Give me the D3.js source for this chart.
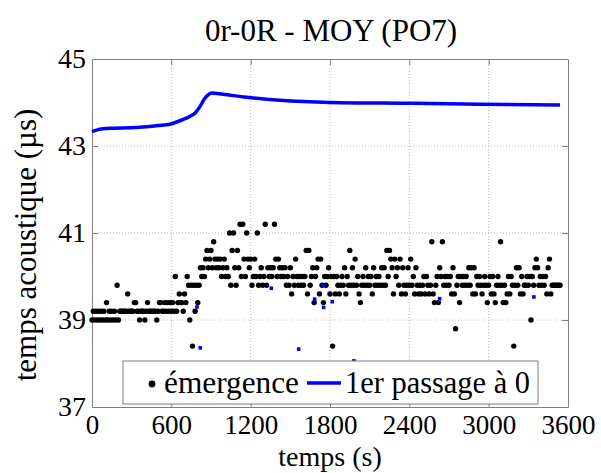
<!DOCTYPE html>
<html><head><meta charset="utf-8">
<script src="https://cdn.jsdelivr.net/npm/d3@7"></script>
<style>
body{margin:0;background:#fff}
svg{display:block}
</style>
</head><body>
<svg id="chart" width="601" height="473"></svg>
<script>
const titleText = "0r-0R - MOY (PO7)";
const xLabel = "temps (s)";
const yLabel = "temps acoustique (µs)";
const xTicks = [0, 600, 1200, 1800, 2400, 3000, 3600];
const yTicks = [37, 39, 41, 43, 45];
const legendLabels = ["émergence", "1er passage à 0"];

// émergence: one value every 10 s, in blocks of 600 s
const emergenceStep = 10;
const emergence0 = [39.0,39.2,39.0,39.2,39.0,39.2,39.0,39.2,39.0,39.2,
 39.0,39.4,39.0,39.2,39.0,39.2,39.0,39.2,39.0,39.8,
 39.0,39.2,39.2,39.2,39.2,39.2,39.2,39.6,39.2,39.2,
 39.2,39.2,39.4,39.4,39.2,39.2,39.0,39.2,39.2,39.2,
 39.0,39.2,39.4,39.2,39.2,39.2,39.2,39.2,39.2,39.0,
 39.2,39.4,39.4,39.2,39.2,39.4,39.2,39.4,39.2,39.4];
const emergence600 = [39.2,39.4,39.2,40.0,39.2,39.4,39.6,39.4,39.4,39.2,
 39.6,39.4,40.0,39.8,39.0,39.8,38.4,39.8,39.2,39.8,
 39.4,39.8,40.2,40.0,40.2,40.0,40.4,40.6,40.2,40.4,
 40.6,40.2,40.8,40.4,40.2,40.4,40.2,40.4,40.0,40.2,
 40.4,40.0,40.2,40.0,41.0,39.8,40.6,41.0,40.2,39.8,
 40.6,40.2,41.2,40.0,41.2,40.4,40.0,41.0,40.4,40.2];
const emergence1200 = [40.4,39.8,40.0,40.4,40.0,41.0,39.8,40.0,40.2,39.8,
 40.0,41.2,39.8,40.2,40.0,40.2,40.0,40.2,41.2,40.4,
 40.0,40.4,40.2,40.0,40.2,40.0,40.2,39.8,40.0,39.8,
 40.2,39.6,40.0,39.8,40.4,40.0,39.8,40.0,39.8,40.0,
 39.8,40.0,40.6,39.6,40.6,39.8,40.0,40.2,39.4,40.0,
 40.2,40.4,39.6,40.4,39.8,39.4,40.0,39.8,40.0,40.2];
const emergence1800 = [39.6,40.0,38.4,40.0,39.6,40.0,39.8,39.6,39.8,40.0,
 39.8,40.2,39.6,40.0,39.8,40.6,39.8,40.2,39.8,40.4,
 39.8,40.0,39.6,39.4,39.8,40.0,39.8,40.2,39.8,40.0,
 39.8,40.0,39.6,40.2,39.8,40.0,39.8,40.0,39.8,40.2,
 39.8,40.2,39.8,40.6,40.0,40.6,40.4,40.2,39.6,40.4,
 40.0,40.2,39.8,40.4,39.6,40.2,39.8,39.6,39.8,40.2];
const emergence2400 = [39.8,40.4,39.8,40.0,39.6,40.2,39.8,39.6,39.8,39.6,
 39.8,40.0,39.6,40.0,39.8,39.6,39.8,40.8,39.6,39.4,
 39.8,40.0,39.4,40.2,40.0,40.8,39.8,40.0,39.8,40.0,
 39.8,40.0,39.6,40.2,39.6,38.8,39.8,40.0,39.4,40.0,
 39.8,40.0,39.8,40.0,39.8,40.2,39.8,40.2,39.6,40.2,
 39.6,40.0,39.8,40.0,39.8,39.6,39.8,40.0,39.8,39.4];
const emergence3000 = [39.8,40.0,39.6,40.0,39.6,39.4,39.8,40.0,39.8,40.8,
 39.8,39.4,39.8,39.4,39.6,40.0,39.6,40.0,39.8,38.4,
 39.8,40.2,39.8,40.2,39.6,40.0,39.6,39.8,39.8,40.0,
 39.8,40.0,39.0,40.0,39.8,40.2,40.4,40.2,39.8,40.0,
 39.8,40.0,39.8,40.0,39.6,40.2,40.4,39.6,39.8,39.8,
 39.8,39.8,39.8,39.8,39.8];
const emergenceBlocks = [[0, emergence0],[600, emergence600],[1200, emergence1200],
  [1800, emergence1800],[2400, emergence2400],[3000, emergence3000]];

// 1er passage à 0 : curve
const passageT = [0, 70, 160, 300, 410, 500, 590, 690, 740, 780, 815, 850, 880, 905, 990, 1170, 1420, 1800, 2430, 2930, 3540];
const passageV = [43.33, 43.39, 43.41, 43.42, 43.44, 43.47, 43.50, 43.61, 43.68, 43.76, 43.90, 44.08, 44.18, 44.22, 44.19, 44.12, 44.05, 44.00, 43.98, 43.96, 43.94];
// isolated blue markers
const markerT = [794, 819, 1356, 1563, 1684, 1747, 1752, 1817, 1981, 2629, 3342];
const markerV = [39.30, 38.36, 39.73, 38.33, 39.48, 39.79, 39.29, 39.42, 38.06, 39.49, 39.53];

const FONT = '"Liberation Serif", "Times New Roman", Times, "DejaVu Serif", serif';
const m = {left: 92, right: 568, top: 59, bottom: 407};
const svg = d3.select("#chart");
const x = d3.scaleLinear().domain([0, 3600]).range([m.left, m.right]);
const y = d3.scaleLinear().domain([37, 45]).range([m.bottom, m.top]);
const axisColor = "#7f7f7f";

// grid
const grid = svg.append("g");
grid.selectAll("line.gx").data(xTicks.slice(1, -1)).enter().append("line")
  .attr("x1", d => x(d)).attr("x2", d => x(d)).attr("y1", m.top).attr("y2", m.bottom)
  .attr("stroke", "#b8b8b8").attr("stroke-width", 1).attr("stroke-dasharray", "1,2");
grid.selectAll("line.gy").data(yTicks.slice(1, -1)).enter().append("line")
  .attr("y1", d => y(d)).attr("y2", d => y(d)).attr("x1", m.left).attr("x2", m.right)
  .attr("stroke", "#b8b8b8").attr("stroke-width", 1).attr("stroke-dasharray", "1,2");

// axes
function styleAxis(g, labels) {
  g.attr("font-family", null).attr("font-size", null);
  g.selectAll("path.domain").attr("stroke", axisColor);
  g.selectAll(".tick line").attr("stroke", axisColor);
  g.selectAll("text").style("font-family", FONT).style("font-size", "28px").attr("fill", "#000");
  if (!labels) g.selectAll("text").remove();
}
const xb = svg.append("g").attr("transform", `translate(0,${m.bottom})`)
  .call(d3.axisBottom(x).tickValues(xTicks).tickSizeInner(-6).tickSizeOuter(0).tickFormat(d3.format("d")));
styleAxis(xb, true);
xb.selectAll("text").style("font-size", "27px").attr("dy", "0.71em").attr("y", 8);
const xt = svg.append("g").attr("transform", `translate(0,${m.top})`)
  .call(d3.axisTop(x).tickValues(xTicks).tickSizeInner(-6).tickSizeOuter(0));
styleAxis(xt, false);
const yl = svg.append("g").attr("transform", `translate(${m.left},0)`)
  .call(d3.axisLeft(y).tickValues(yTicks).tickSizeInner(-6).tickSizeOuter(0).tickPadding(6).tickFormat(d3.format("d")));
styleAxis(yl, true);
yl.selectAll("text").attr("x", -6);
const yr = svg.append("g").attr("transform", `translate(${m.right},0)`)
  .call(d3.axisRight(y).tickValues(yTicks).tickSizeInner(-6).tickSizeOuter(0));
styleAxis(yr, false);
[xb, xt].forEach(g => g.selectAll(".tick line").filter(d => d === 0 || d === 3600).remove());
[yl, yr].forEach(g => g.selectAll(".tick line").filter(d => d === 37 || d === 45).remove());

// curve
const passage = passageT.map((t, i) => [t, passageV[i]]);
svg.append("path").datum(passage)
  .attr("d", d3.line().x(d => x(d[0])).y(d => y(d[1])).curve(d3.curveMonotoneX))
  .attr("fill", "none").attr("stroke", "#0000ff").attr("stroke-width", 3.5)
  .attr("stroke-linejoin", "round");

// dots
const emergence = [];
emergenceBlocks.forEach(([t0, vals]) => vals.forEach((v, i) => emergence.push([t0 + i * emergenceStep, v])));
svg.append("g").selectAll("circle").data(emergence).enter().append("circle")
  .attr("cx", d => x(d[0])).attr("cy", d => y(d[1])).attr("r", 2.7).attr("fill", "#000");

// blue markers
const markers = markerT.map((t, i) => [t, markerV[i]]);
svg.append("g").selectAll("rect").data(markers).enter().append("rect")
  .attr("x", d => x(d[0]) - 1.8).attr("y", d => y(d[1]) - 1.8)
  .attr("width", 3.6).attr("height", 3.6).attr("fill", "#0000ff");

// legend
const lg = svg.append("g");
lg.append("rect").attr("x", 123).attr("y", 361).attr("width", 415).attr("height", 43)
  .attr("fill", "#fff").attr("stroke", axisColor);
lg.append("circle").attr("cx", 152).attr("cy", 384).attr("r", 3.4).attr("fill", "#000");
lg.append("text").attr("x", 164).attr("y", 393).style("font-family", FONT).style("font-size", "31px")
  .attr("textLength", 135).attr("lengthAdjust", "spacingAndGlyphs").text(legendLabels[0]);
lg.append("line").attr("x1", 307).attr("x2", 341).attr("y1", 383).attr("y2", 383)
  .attr("stroke", "#0000ff").attr("stroke-width", 3.5);
lg.append("text").attr("x", 345).attr("y", 393).style("font-family", FONT).style("font-size", "31px")
  .attr("textLength", 185).attr("lengthAdjust", "spacingAndGlyphs").text(legendLabels[1]);

// titles
svg.append("text").attr("x", 331).attr("y", 41).attr("text-anchor", "middle")
  .style("font-family", FONT).style("font-size", "31px").text(titleText);
svg.append("text").attr("x", 330).attr("y", 466).attr("text-anchor", "middle")
  .style("font-family", FONT).style("font-size", "28px").text(xLabel);
svg.append("text").attr("transform", `translate(36,${(m.top + m.bottom) / 2 + 12}) rotate(-90)`)
  .attr("text-anchor", "middle").style("font-family", FONT).style("font-size", "31px").text(yLabel);
</script>
</body></html>
